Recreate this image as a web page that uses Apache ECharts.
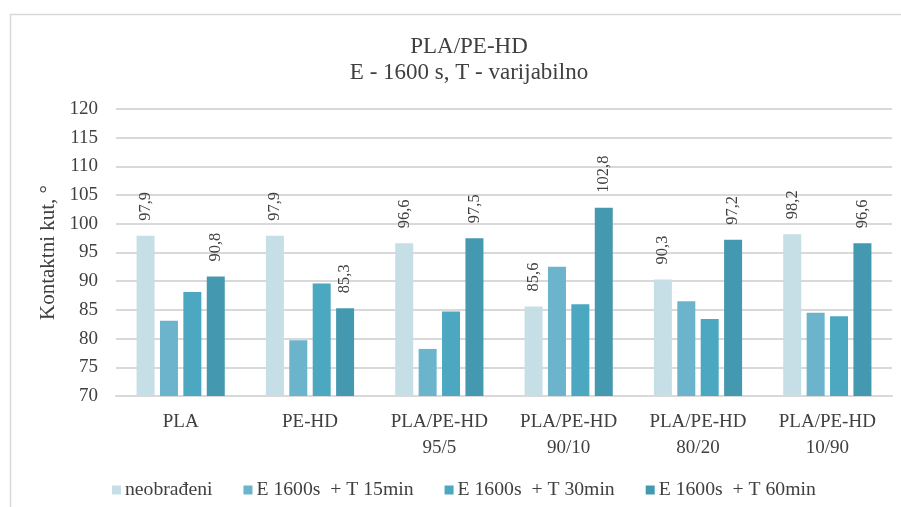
<!DOCTYPE html>
<html>
<head>
<meta charset="utf-8">
<script src="https://cdn.jsdelivr.net/npm/echarts@6/dist/echarts.min.js"></script>
<style>html,body{margin:0;padding:0;background:#fff}#c{width:901px;height:507px}</style>
</head>
<body>
<div id="c"></div>
<script>
var categories = ['PLA', 'PE-HD', 'PLA/PE-HD\n95/5', 'PLA/PE-HD\n90/10', 'PLA/PE-HD\n80/20', 'PLA/PE-HD\n10/90'];
var seriesNames = ['neobrađeni', 'E 1600s  + T 15min', 'E 1600s  + T 30min', 'E 1600s  + T 60min'];
var neobradeni = [97.9, 97.9, 96.6, 85.6, 90.3, 98.2];
var t15 = [83.1, 79.7, 78.2, 92.5, 86.5, 84.5];
var t30 = [88.1, 89.6, 84.7, 86.0, 83.4, 83.9];
var t60 = [90.8, 85.3, 97.5, 102.8, 97.2, 96.6];
var yTicks = [70, 75, 80, 85, 90, 95, 100, 105, 110, 115, 120];
var colors = ['#C6DEE6', '#6BB4CB', '#4BA8C0', '#4498B0'];
var showLabel = [true, false, false, true];
var allData = [neobradeni, t15, t30, t60];

var font = "'Liberation Serif', 'Times New Roman', serif";
var chart = echarts.init(document.getElementById('c'), null, {renderer: 'canvas'});
var series = allData.map(function (d, i) {
  return {
    name: seriesNames[i],
    type: 'bar',
    data: d,
    barWidth: 18,
    barGap: '30%',
    itemStyle: {color: colors[i]},
    label: {
      show: showLabel[i],
      position: 'top',
      rotate: 90,
      align: 'left',
      verticalAlign: 'middle',
      distance: 15,
      color: '#404040',
      fontFamily: font,
      fontSize: 16.5,
      formatter: function (p) { return p.value.toFixed(1).replace('.', ','); }
    }
  };
});
chart.setOption({
  animation: false,
  textStyle: {fontFamily: font},
  graphic: [{
    type: 'rect', left: 8, top: 12, shape: {width: 920, height: 520},
    style: {fill: 'none', stroke: '#D9D9D9', lineWidth: 1.5}, silent: true, z: -10
  }],
  title: {
    text: 'PLA/PE-HD\nE - 1600 s, T - varijabilno',
    left: 464, top: 29, textAlign: 'center',
    textStyle: {fontFamily: font, fontSize: 23, fontWeight: 'normal', color: '#404040', lineHeight: 26}
  },
  legend: {
    data: seriesNames,
    left: 107, top: 475,
    itemWidth: 9, itemHeight: 9, itemGap: 31,
    icon: 'rect',
    textStyle: {fontFamily: font, fontSize: 19.7, color: '#404040', padding: [0, 0, 0, -1]}
  },
  grid: {left: 116, right: 9, top: 109, bottom: 111},
  xAxis: {
    type: 'category',
    data: categories,
    axisLine: {show: true, lineStyle: {color: '#D9D9D9', width: 2}},
    axisTick: {show: false},
    axisLabel: {fontFamily: font, fontSize: 19, color: '#404040', margin: 13, lineHeight: 26}
  },
  yAxis: {
    type: 'value',
    min: yTicks[0], max: yTicks[yTicks.length - 1], interval: 5,
    name: 'Kontaktni kut, °',
    nameLocation: 'middle',
    nameGap: 52,
    nameTextStyle: {fontFamily: font, fontSize: 21, color: '#404040'},
    axisLine: {show: false},
    axisTick: {show: false},
    splitLine: {lineStyle: {color: '#D9D9D9', width: 2}},
    axisLabel: {fontFamily: font, fontSize: 19, color: '#404040', margin: 18}
  },
  series: series
});
</script>
</body>
</html>
